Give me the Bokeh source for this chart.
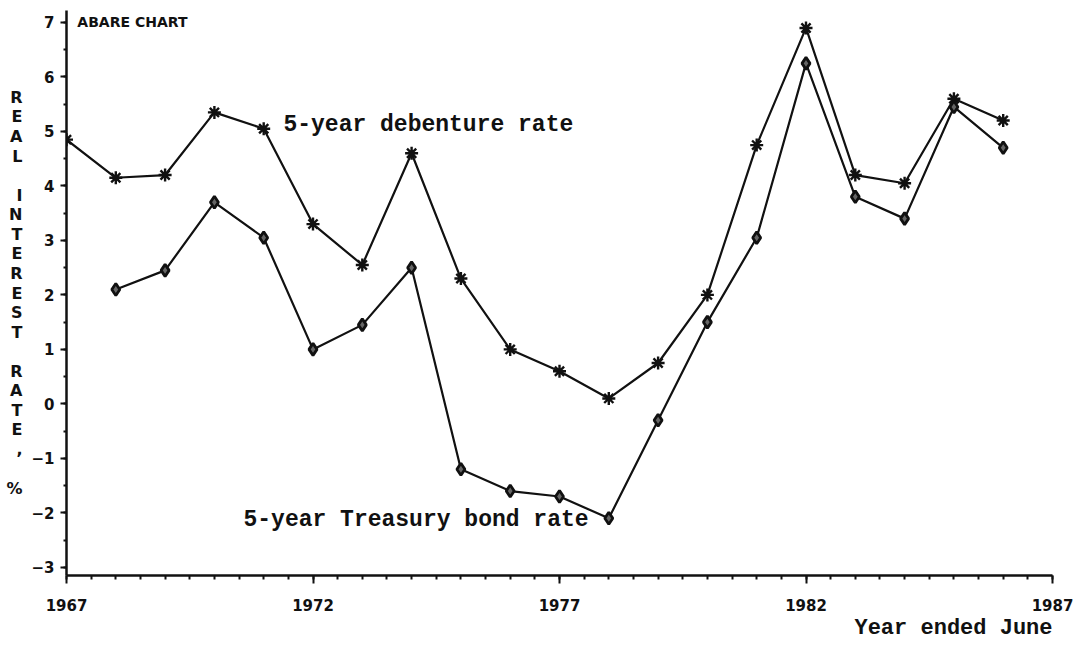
import numpy as np
from bokeh.plotting import figure
from bokeh.models import FixedTicker, Label, Range1d, Title
from bokeh.embed import file_html
from bokeh.resources import INLINE

# ---- data ----
deb_years = [1967, 1968, 1969, 1970, 1971, 1972, 1973, 1974, 1975, 1976,
             1977, 1978, 1979, 1980, 1981, 1982, 1983, 1984, 1985, 1986]
deb_rate = [4.85, 4.15, 4.2, 5.35, 5.05, 3.3, 2.55, 4.6, 2.3, 1.0,
            0.6, 0.1, 0.75, 2.0, 4.75, 6.9, 4.2, 4.05, 5.6, 5.2]
tre_years = [1968, 1969, 1970, 1971, 1972, 1973, 1974, 1975, 1976,
             1977, 1978, 1979, 1980, 1981, 1982, 1983, 1984, 1985, 1986]
tre_rate = [2.1, 2.45, 3.7, 3.05, 1.0, 1.45, 2.5, -1.2, -1.6,
            -1.7, -2.1, -0.3, 1.5, 3.05, 6.25, 3.8, 3.4, 5.45, 4.7]
x_major = [1967, 1972, 1977, 1982, 1987]
y_major = [-3, -2, -1, 0, 1, 2, 3, 4, 5, 6, 7]
y_title = "REAL INTEREST RATE, %"
x_title = "Year ended June"

INK = "#111111"

p = figure(width=1073, height=645, output_backend="svg", toolbar_location=None,
           x_range=Range1d(1967, 1987), y_range=Range1d(-3.15, 7.22),
           min_border_left=66, min_border_right=21, min_border_top=10,
           min_border_bottom=70)
p.outline_line_color = None
p.xgrid.visible = False
p.ygrid.visible = False
p.background_fill_color = "white"
p.border_fill_color = "white"

xa = p.xaxis[0]
xa.ticker = FixedTicker(ticks=x_major,
                        minor_ticks=list(np.arange(1967, 1987.01, 0.5)))
xa.axis_line_width = 2.5
xa.axis_line_color = INK
xa.major_tick_line_width = 2
xa.minor_tick_line_width = 2
xa.major_tick_line_color = INK
xa.minor_tick_line_color = INK
xa.major_tick_out = 8
xa.major_tick_in = 0
xa.minor_tick_out = 4
xa.minor_tick_in = 0
xa.major_label_standoff = 15
xa.major_label_text_font = "DejaVu Sans"
xa.major_label_text_font_style = "bold"
xa.major_label_text_font_size = "15px"
xa.major_label_text_color = INK

ya = p.yaxis[0]
ya.ticker = FixedTicker(ticks=y_major,
                        minor_ticks=list(np.arange(-3, 7.01, 0.5)))
ya.axis_line_width = 2.5
ya.axis_line_color = INK
ya.major_tick_line_width = 2
ya.minor_tick_line_width = 2
ya.major_tick_line_color = INK
ya.minor_tick_line_color = INK
ya.major_tick_out = 6
ya.major_tick_in = 0
ya.minor_tick_out = 3
ya.minor_tick_in = 0
ya.major_label_standoff = 6
ya.major_label_text_font = "DejaVu Sans"
ya.major_label_text_font_style = "bold"
ya.major_label_text_font_size = "15px"
ya.major_label_text_color = INK

# stacked vertical axis title
ya.axis_label = "\n".join(y_title)
ya.axis_label_orientation = "horizontal"
ya.axis_label_standoff = 6
ya.axis_label_text_font = "DejaVu Sans"
ya.axis_label_text_font_style = "bold"
ya.axis_label_text_font_size = "16px"
ya.axis_label_text_line_height = 1.03
ya.axis_label_text_color = INK

# ---- series ----
p.line(deb_years, deb_rate, line_color=INK, line_width=2.2)
p.scatter(deb_years, deb_rate, marker="asterisk", size=13,
          line_color=INK, line_width=2.4)
p.line(tre_years, tre_rate, line_color=INK, line_width=2.2)
p.scatter(tre_years, tre_rate, marker="diamond", size=12,
          line_color=INK, line_width=2.8, fill_color="#666666")

# ---- texts ----
p.add_layout(Label(x=1967.22, y=7.0, text="ABARE CHART", text_font="DejaVu Sans",
                   text_font_style="bold", text_font_size="14px",
                   text_color=INK, text_baseline="middle"))
p.add_layout(Label(x=1971.40, y=5.11, text="5-year debenture rate",
                   text_font="Liberation Mono", text_font_style="bold",
                   text_font_size="23px",
                   text_color=INK, text_baseline="middle"))
p.add_layout(Label(x=1970.59, y=-2.14, text="5-year Treasury bond rate",
                   text_font="Liberation Mono", text_font_style="bold",
                   text_font_size="23px",
                   text_color=INK, text_baseline="middle"))
p.add_layout(Title(text=x_title, align="right", text_font="Liberation Mono",
                   text_font_style="bold", text_font_size="22px",
                   text_color=INK, standoff=0), "below")

open("out.html", "w").write(file_html(p, INLINE))
